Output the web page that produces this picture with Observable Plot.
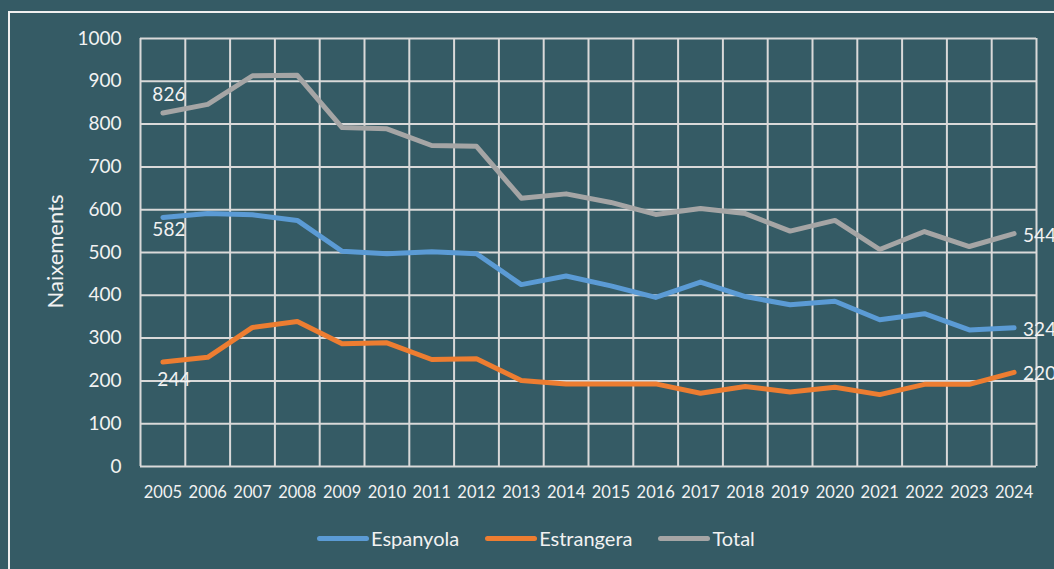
<!DOCTYPE html>
<html><head><meta charset="utf-8">
<script src="https://cdn.jsdelivr.net/npm/d3@7"></script>
<script src="https://cdn.jsdelivr.net/npm/@observablehq/plot@0.6"></script>
<style>
html,body{margin:0;padding:0;background:#355B65;width:1054px;height:569px;overflow:hidden;font-family:Lato,sans-serif;}
#frame{position:absolute;left:8px;top:11px;width:1100px;height:600px;border:2px solid #f0f0f0;box-sizing:border-box;}
#chart{position:absolute;left:0;top:0;}
#legend{position:absolute;left:317px;top:526px;display:flex;align-items:center;color:#f2f2f2;font-size:20px;font-family:Lato,sans-serif;}
.item{display:flex;align-items:center;margin-right:26px;}
.sw{width:52px;height:5px;border-radius:3px;margin-right:2px;}
</style></head><body>
<div id="frame"></div><div id="chart"></div><div id="legend"></div>
<script>
const years = [2005,2006,2007,2008,2009,2010,2011,2012,2013,2014,2015,2016,2017,2018,2019,2020,2021,2022,2023,2024];
const espanyola = [582,591,588,575,503,497,502,497,425,445,422,395,431,397,378,386,343,357,319,324];
const estrangera = [244,255,325,339,287,289,250,252,201,193,193,193,171,187,174,185,168,192,192,220];
const total = [826,846,913,914,792,789,750,748,627,637,617,589,603,591,550,575,507,549,514,544];
const seriesNames = ["Espanyola","Estrangera","Total"];
const seriesColors = ["#5B9BD5","#ED7D31","#A5A5A5"];
const yTicks = [0,100,200,300,400,500,600,700,800,900,1000];
const yLabel = "Naixements";

const seriesValues = [espanyola, estrangera, total];
const data = [];
seriesNames.forEach((name, s) => years.forEach((yr, i) => data.push({year: yr, value: seriesValues[s][i], serie: name})));
const boundaries = [years[0] - 0.5, ...years.map(y => y + 0.5)];
const firstOf = name => data.filter(d => d.serie === name && d.year === years[0]);
const lastPts = data.filter(d => d.year === years[years.length - 1]);

const W = 1054, H = 510;
const txt = "#f2f2f2";
const chart = Plot.plot({
  width: W, height: H,
  marginLeft: 140, marginRight: 18, marginTop: 38, marginBottom: H - 466,
  style: {background: "transparent", color: txt, fontFamily: "Lato, sans-serif", overflow: "visible"},
  x: {domain: [years[0] - 0.5, years[years.length - 1] + 0.5]},
  y: {domain: [0, 1000]},
  color: {domain: seriesNames, range: seriesColors},
  marks: [
    Plot.ruleY(yTicks, {stroke: "#D9D9D9", strokeWidth: 2}),
    Plot.ruleX(boundaries, {stroke: "#D9D9D9", strokeWidth: 2}),
    Plot.axisY({ticks: yTicks, tickSize: 0, tickPadding: 19, fontSize: 19, label: null, tickFormat: d => String(d), fill: txt}),
    Plot.axisX({ticks: years, tickSize: 0, tickPadding: 20, fontSize: 16.5, label: null, tickFormat: d => String(d), fill: txt}),
    Plot.line(data, {x: "year", y: "value", z: "serie", stroke: "serie", strokeWidth: 5, strokeLinecap: "round", strokeLinejoin: "round"}),
    Plot.text(firstOf("Total"), {x: "year", y: "value", text: d => String(d.value), dx: 6, dy: -18, fontSize: 19, fill: txt}),
    Plot.text(firstOf("Espanyola"), {x: "year", y: "value", text: d => String(d.value), dx: 6, dy: 13, fontSize: 19, fill: txt}),
    Plot.text(firstOf("Estrangera"), {x: "year", y: "value", text: d => String(d.value), dx: 11, dy: 18, fontSize: 19, fill: txt}),
    Plot.text(lastPts, {x: "year", y: "value", text: d => String(d.value), dx: 9, dy: 2, textAnchor: "start", fontSize: 19, fill: txt}),
    Plot.text([0], {frameAnchor: "left", dx: -85, dy: -1, text: () => yLabel, rotate: -90, textAnchor: "middle", fontSize: 22, fill: txt})
  ]
});
document.getElementById("chart").appendChild(chart);

const legend = document.getElementById("legend");
seriesNames.forEach((name, i) => {
  const item = document.createElement("div");
  item.className = "item";
  const sw = document.createElement("div");
  sw.className = "sw";
  sw.style.background = seriesColors[i];
  const label = document.createElement("span");
  label.textContent = name;
  item.appendChild(sw);
  item.appendChild(label);
  legend.appendChild(item);
});
</script></body></html>
